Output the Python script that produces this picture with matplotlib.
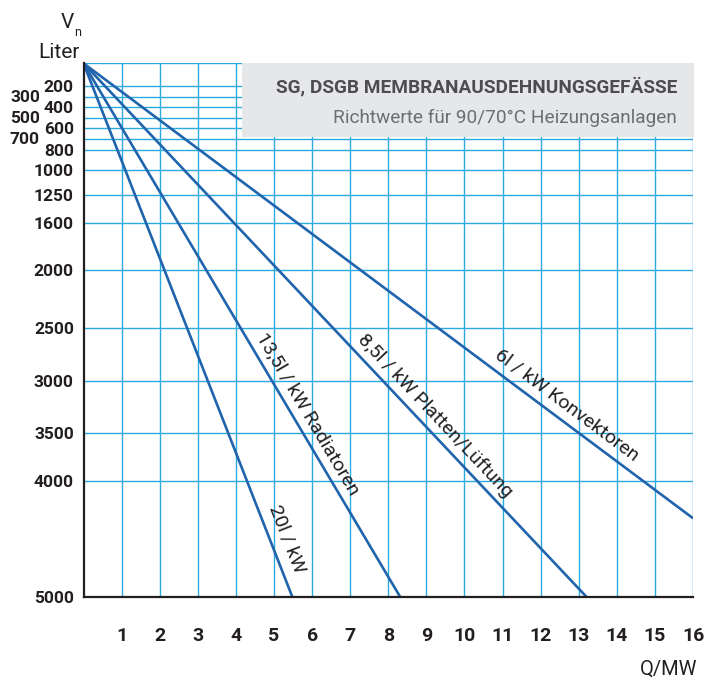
import numpy as np
import matplotlib
matplotlib.use("Agg")
from matplotlib import pyplot as plt
from matplotlib.patches import Rectangle

# Ausdehnungsgefäße: Richtwerte für 90/70°C Heizungsanlagen
series_labels = ["20l / kW", "13,5l / kW Radiatoren", "8,5l / kW Platten/Lüftung", "6l / kW Konvektoren"]
q_end = [5.48, 8.31, 13.2, 16.0]          # Q/MW at line end
v_end = [5000, 5000, 5000, 4320]          # V_n (Liter) at line end

x_ticks = list(range(1, 17))
y_ticks_right = [200, 400, 600, 800, 1000, 1250, 1600, 2000, 2500, 3000, 3500, 4000, 5000]
y_ticks_left = [300, 500, 700]

# the printed volume axis is not evenly spaced: pixel rows of each volume line
scale_vol = [0, 200, 300, 400, 500, 600, 700, 800, 1000, 1250, 1600, 2000, 2500, 3000, 3500, 4000, 5000]
scale_px = [63.3, 85.7, 97, 107.3, 118.3, 128.3, 139.3, 150, 170, 195, 223.3, 270.3, 328.3, 380.7, 433.3, 481.3, 596.7]

label_pos = [0.902, 0.671, 0.679, 0.778]  # fraction along each line for its label
label_off = [16, 14, 14, 15]              # pixels from the line

GRID = "#29abe2"
LINE = "#1f64ad"
DARK = "#231f20"

fwd = lambda v: np.interp(v, scale_vol, scale_px)
inv = lambda p: np.interp(p, scale_px, scale_vol)

fig = plt.figure(figsize=(7.21, 6.8), dpi=100)
W, H = 721, 680
left, right, top, bottom = 83.5, 693, 63.3, 596.7
ax = fig.add_axes([left / W, 1 - bottom / H, (right - left) / W, (bottom - top) / H])
ax.set_yscale("function", functions=(fwd, inv))
ax.set_xlim(0, 16)
ax.set_ylim(5000, 0)

# grid
for x in x_ticks:
    ax.axvline(x, color=GRID, lw=1.0, zorder=1)
for v in [0] + y_ticks_right + y_ticks_left:
    ax.axhline(v, color=GRID, lw=1.0, zorder=1)

# title box
ax.add_patch(Rectangle((0.26, 0.862), 0.742, 0.138, transform=ax.transAxes,
                       facecolor="#e6e7e8", edgecolor="none", zorder=2, clip_on=False))
ax.text(0.974, 0.956, "SG, DSGB MEMBRANAUSDEHNUNGSGEFÄSSE", transform=ax.transAxes,
        ha="right", va="center", fontsize=13.7, fontweight="bold", family="Roboto",
        color="#4d4d4f", zorder=3)
ax.text(0.974, 0.898, "Richtwerte für 90/70°C Heizungsanlagen", transform=ax.transAxes,
        ha="right", va="center", fontsize=13.7, family="Roboto", color="#6d6e71", zorder=3)

# lines
for q, v in zip(q_end, v_end):
    ax.plot([0, q], [0, v], color=LINE, lw=1.9, zorder=4, solid_capstyle="butt")

# line labels, rotated along each line
for lab, q, v, t, off in zip(series_labels, q_end, v_end, label_pos, label_off):
    p0 = ax.transData.transform((0, 0))
    p1 = ax.transData.transform((q, v))
    d = p1 - p0
    ang = np.degrees(np.arctan2(d[1], d[0]))
    n = np.array([-d[1], d[0]]) / np.hypot(*d)
    pt = ax.transData.inverted().transform(p0 + t * d)
    ax.annotate(lab, xy=pt, xytext=tuple(n * off), textcoords="offset pixels",
                rotation=ang, rotation_mode="anchor", ha="center", va="center",
                fontsize=14, family="Roboto", color=DARK, zorder=5)

# axes
for s in ["top", "right"]:
    ax.spines[s].set_visible(False)
for s in ["left", "bottom"]:
    ax.spines[s].set_color(DARK)
    ax.spines[s].set_linewidth(1.6)
    ax.spines[s].set_zorder(6)

ax.set_xticks(x_ticks)
ax.set_xticklabels([str(x) for x in x_ticks], fontsize=14, fontweight="bold",
                   family="Roboto", color=DARK)
ax.set_yticks(y_ticks_right)
ax.set_yticks([], minor=True)
ax.set_yticklabels([str(v) for v in y_ticks_right], fontsize=12.5, fontweight="bold",
                   family="Roboto", color=DARK)
ax.tick_params(axis="both", length=0)
ax.tick_params(axis="y", pad=7)
ax.tick_params(axis="x", pad=22)

for v in y_ticks_left:
    ax.annotate(str(v), xy=(0, v), xycoords=("axes fraction", "data"),
                xytext=(-43.5, 0), textcoords="offset pixels", ha="right", va="center",
                fontsize=12.5, fontweight="bold", family="Roboto", color=DARK, annotation_clip=False)

# axis titles
fig.text(67 / W, 1 - 28.3 / H, "V", ha="center", va="baseline", fontsize=15, family="Roboto", color=DARK)
fig.text(78 / W, 1 - 35.5 / H, "n", ha="center", va="baseline", fontsize=9, family="Roboto", color=DARK)
fig.text(80 / W, 1 - 58.5 / H, "Liter", ha="right", va="baseline", fontsize=15, family="Roboto", color=DARK)
fig.text(697 / W, 1 - 669 / H, "Q/MW", ha="right", va="center", fontsize=14.5, family="Roboto", color=DARK)

fig.savefig("out.png", dpi=100)
